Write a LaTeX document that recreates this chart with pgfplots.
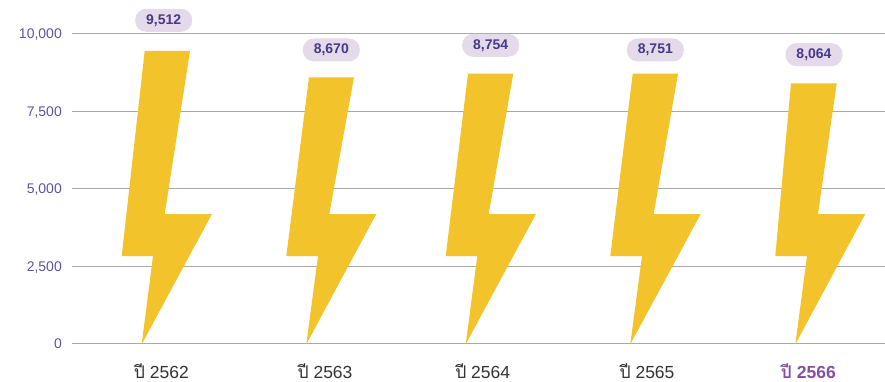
\documentclass[border=0pt]{standalone}
\usepackage{fontspec}
\setmainfont{Liberation Sans}
\newfontfamily\thaifont[Script=Thai]{Loma}
\usepackage{pgfplots}
\pgfplotsset{compat=1.18}
\usepackage{pgfplotstable}
\definecolor{bolt}{HTML}{F2C32A}
\definecolor{gridc}{HTML}{A9A9A9}
\definecolor{ytext}{HTML}{5F529F}
\definecolor{pill}{HTML}{E5DAEA}
\definecolor{pilltext}{HTML}{46398A}
\definecolor{xtext}{HTML}{333333}
\definecolor{hilite}{HTML}{8450A2}
\pgfplotstableread{
x y label
163.7 10443 9,512
331.3 9483 8,670
490.7 9635 8,754
655.3 9483 8,751
814.0 9331 8,064
}\labels
\begin{document}
\begin{tikzpicture}[x=1pt,y=1pt]
\path[use as bounding box] (0,0) rectangle (885,382);
\begin{axis}[
  at={(72pt,38.5pt)}, anchor=south west,
  scale only axis, width=813pt, height=309.5pt,
  xmin=72, xmax=885, ymin=0, ymax=10000,
  clip=false,
  axis line style={draw=none},
  tick style={draw=none},
  ymajorgrids,
  grid style={draw=gridc, line width=1pt},
  ytick={0,2500,5000,7500,10000},
  scaled y ticks=false,
  /pgf/number format/1000 sep={,},
  /pgf/number format/assume math mode=true,
  yticklabel style={font=\fontsize{14}{16}\selectfont, text=ytext},
  y tick label style={anchor=east, xshift=-10pt, inner sep=0pt, text height=10pt, text depth=0pt, yshift=0pt},
  xtick={161.3,325,482.7,647,808.3},
  xticklabels={
    {\thaifont ปี}~2562,
    {\thaifont ปี}~2563,
    {\thaifont ปี}~2564,
    {\thaifont ปี}~2565,
    {\color{hilite}\bfseries{\thaifont ปี}~2566}},
  x tick label style={font=\fontsize{17.5}{20}\selectfont, text=xtext, anchor=base, yshift=-35pt, inner sep=0pt},
]
\addplot[fill=bolt, draw=none] coordinates {(144.7,9451) (190,9451) (164.7,4184) (212,4184) (141.7,-26) (153,2827) (121.7,2827)} -- cycle;
\addplot[fill=bolt, draw=none] coordinates {(309,8601) (354,8601) (329.3,4184) (376.3,4184) (306.3,-26) (318,2827) (286.3,2827)} -- cycle;
\addplot[fill=bolt, draw=none] coordinates {(468,8717) (513.3,8717) (488.7,4184) (536,4184) (465.7,-26) (477.3,2827) (445.7,2827)} -- cycle;
\addplot[fill=bolt, draw=none] coordinates {(632.7,8717) (678,8717) (653.7,4184) (700.7,4184) (630.3,-26) (642,2827) (610.3,2827)} -- cycle;
\addplot[fill=bolt, draw=none] coordinates {(791,8407) (836.7,8407) (818,4184) (865.3,4184) (795.3,-26) (807,2827) (775.3,2827)} -- cycle;
\addplot[draw=none, mark=none, nodes near coords, point meta=explicit symbolic,
  every node near coord/.style={anchor=center, fill=pill, text=pilltext, rounded corners=11pt,
    minimum width=57pt, minimum height=23pt, inner sep=0pt, font=\fontsize{14}{16}\selectfont\bfseries}]
  table[x=x, y=y, meta=label] {\labels};
\end{axis}
\end{tikzpicture}
\end{document}
